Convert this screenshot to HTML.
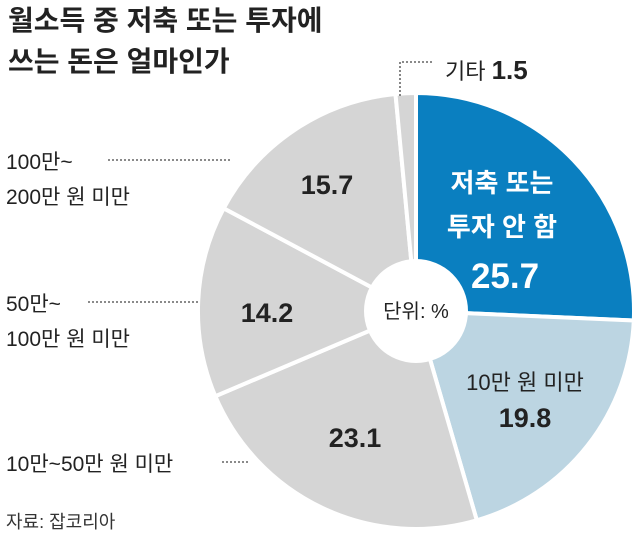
<!DOCTYPE html>
<html><head><meta charset="utf-8"><style>
body{margin:0;background:#fff;}
svg text{font-family:"Liberation Sans","Noto Sans CJK KR",sans-serif;}
</style></head><body>
<svg width="640" height="534" viewBox="0 0 640 534" xmlns="http://www.w3.org/2000/svg">
<rect width="640" height="534" fill="#fff"/>
<g stroke="#fff" stroke-width="4">
<path d="M416,311 L416,93 A218,218 0 0 1 633.8,320.5 Z" fill="#0a7fc0"/>
<path d="M416,311 L633.8,320.5 A218,218 0 0 1 476.8,520.3 Z" fill="#bcd5e2"/>
<path d="M416,311 L476.8,520.3 A218,218 0 0 1 215.3,396.2 Z" fill="#d5d5d5"/>
<path d="M416,311 L215.3,396.2 A218,218 0 0 1 223.7,208.3 Z" fill="#d5d5d5"/>
<path d="M416,311 L223.7,208.3 A218,218 0 0 1 395.5,94 Z" fill="#d5d5d5"/>
<path d="M416,311 L395.5,94 A218,218 0 0 1 416,93 Z" fill="#d5d5d5"/>
</g>
<circle cx="416" cy="311" r="52" fill="#fff"/>
<text x="416" y="318" font-size="20" text-anchor="middle" fill="#222">단위: %</text>
<text x="8" y="30" font-size="28" font-weight="bold" fill="#222">월소득 중 저축 또는 투자에</text>
<text x="8" y="71" font-size="28" font-weight="bold" fill="#222">쓰는 돈은 얼마인가</text>
<text x="502" y="192" font-size="26" font-weight="bold" fill="#fff" text-anchor="middle">저축 또는</text>
<text x="502" y="236" font-size="26" font-weight="bold" fill="#fff" text-anchor="middle">투자 안 함</text>
<text x="505" y="288" font-size="35" font-weight="bold" fill="#fff" text-anchor="middle">25.7</text>
<text x="525" y="390" font-size="22" fill="#222" text-anchor="middle">10만 원 미만</text>
<text x="525" y="427" font-size="27" font-weight="bold" fill="#222" text-anchor="middle">19.8</text>
<text x="355" y="447" font-size="27" font-weight="bold" fill="#222" text-anchor="middle">23.1</text>
<text x="267" y="322" font-size="27" font-weight="bold" fill="#222" text-anchor="middle">14.2</text>
<text x="327" y="194" font-size="27" font-weight="bold" fill="#222" text-anchor="middle">15.7</text>
<text x="445" y="79" font-size="22" fill="#222">기타 <tspan font-weight="bold" font-size="26">1.5</tspan></text>
<g stroke="#444" stroke-width="1.3" stroke-dasharray="2,2" fill="none">
<path d="M400,96 V62 H432"/>
<path d="M108,160 H230"/>
<path d="M88,302 H200"/>
<path d="M222,462 H250"/>
</g>
<text x="6" y="169" font-size="21" fill="#222">100만~</text>
<text x="6" y="204" font-size="21" fill="#222">200만 원 미만</text>
<text x="6" y="311" font-size="21" fill="#222">50만~</text>
<text x="6" y="346" font-size="21" fill="#222">100만 원 미만</text>
<text x="6" y="471" font-size="21" fill="#222">10만~50만 원 미만</text>
<text x="6" y="528" font-size="18" fill="#333">자료: 잡코리아</text>
</svg>
</body></html>
